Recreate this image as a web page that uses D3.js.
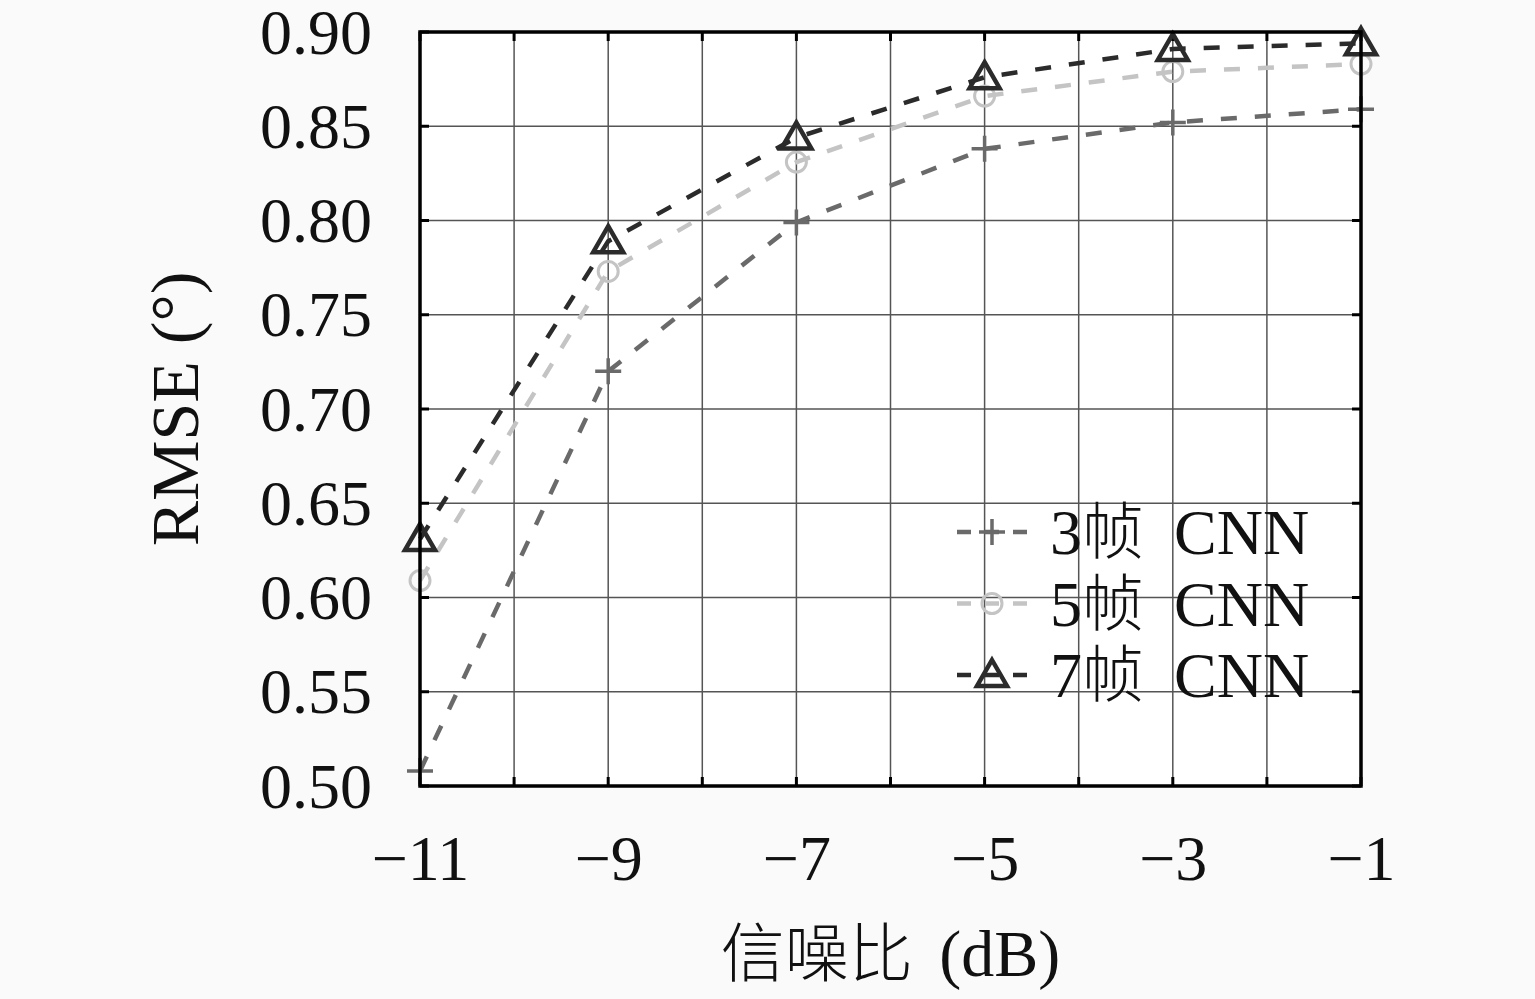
<!DOCTYPE html>
<html>
<head>
<meta charset="utf-8">
<script src="https://cdn.jsdelivr.net/npm/d3@7"></script>
<style>
  body { margin: 0; background: #fafafa; }
  svg { display: block; }
  text { font-family: "Liberation Serif", "DejaVu Serif", serif; fill: #111; }
  .cjk { font-family: "Noto Sans CJK SC", sans-serif; font-weight: 300; }
</style>
</head>
<body>
<div id="chart"></div>
<script>
// x values (dB) and labelled ticks
var snr = [-11, -9, -7, -5, -3, -1];
var xTicks = [-11, -9, -7, -5, -3, -1];
var yTicks = [0.50, 0.55, 0.60, 0.65, 0.70, 0.75, 0.80, 0.85, 0.90];

// RMSE for each model
var cnn3 = [0.508, 0.720, 0.799, 0.838, 0.852, 0.859];
var cnn5 = [0.609, 0.773, 0.831, 0.866, 0.879, 0.883];
var cnn7 = [0.631, 0.789, 0.844, 0.876, 0.891, 0.894];

var seriesNames = ["3帧", "5帧", "7帧"];

var width = 1535,
    height = 999,
    margin = {top: 32, right: 174, bottom: 213, left: 420};

var svg = d3.select("#chart").append("svg")
  .attr("width", width)
  .attr("height", height);

var w = width - margin.left - margin.right,
    h = height - margin.top - margin.bottom;

var g = svg.append("g")
  .attr("transform", `translate(${margin.left},${margin.top})`);

var x = d3.scaleLinear().domain([-11, -1]).range([0, w]);
var y = d3.scaleLinear().domain([0.5, 0.9]).range([h, 0]);

g.append("rect").attr("width", w).attr("height", h).attr("fill", "#fff");

// grid, every 1 dB and every 0.05
var gridX = d3.range(-11, -0.5, 1);
g.append("g").selectAll("line").data(gridX).enter().append("line")
  .attr("x1", d => x(d)).attr("x2", d => x(d))
  .attr("y1", 0).attr("y2", h)
  .attr("stroke", "#555").attr("stroke-width", 1.5);
g.append("g").selectAll("line").data(yTicks).enter().append("line")
  .attr("y1", d => y(d)).attr("y2", d => y(d))
  .attr("x1", 0).attr("x2", w)
  .attr("stroke", "#555").attr("stroke-width", 1.5);

// inward ticks on all four sides
var tk = 9;
var ticks = g.append("g").attr("stroke", "#000").attr("stroke-width", 3);
gridX.forEach(d => {
  ticks.append("line").attr("x1", x(d)).attr("x2", x(d)).attr("y1", h).attr("y2", h - tk);
  ticks.append("line").attr("x1", x(d)).attr("x2", x(d)).attr("y1", 0).attr("y2", tk);
});
yTicks.forEach(d => {
  ticks.append("line").attr("y1", y(d)).attr("y2", y(d)).attr("x1", 0).attr("x2", tk);
  ticks.append("line").attr("y1", y(d)).attr("y2", y(d)).attr("x1", w).attr("x2", w - tk);
});

// tick labels
var xAxis = d3.axisBottom(x).tickValues(xTicks).tickSize(0).tickPadding(0)
  .tickFormat(d => "\u2212" + Math.abs(d));
var yAxis = d3.axisLeft(y).tickValues(yTicks).tickSize(0).tickPadding(0)
  .tickFormat(d3.format(".2f"));

var gx = g.append("g").attr("transform", `translate(0,${h})`).call(xAxis);
gx.select(".domain").remove();
gx.selectAll("text").attr("font-size", 64).attr("dy", null).attr("y", 94)
  .attr("font-family", "Liberation Serif").attr("fill", "#111");

var gy = g.append("g").call(yAxis);
gy.select(".domain").remove();
gy.selectAll("text").attr("font-size", 64).attr("dy", "0.33em").attr("x", -48)
  .attr("font-family", "Liberation Serif").attr("fill", "#111");

// lines and markers
var series = [
  {name: seriesNames[0], values: cnn3, color: "#6a6a6a", marker: "plus"},
  {name: seriesNames[1], values: cnn5, color: "#c4c4c4", marker: "circle"},
  {name: seriesNames[2], values: cnn7, color: "#2b2b2b", marker: "triangle"}
];

var line = d3.line().x(d => x(d[0])).y(d => y(d[1]));

function drawMarker(sel, type, color) {
  if (type === "plus") {
    sel.append("path").attr("d", "M-13,0H13M0,-13V13")
      .attr("stroke", color).attr("stroke-width", 3.5).attr("fill", "none");
  } else if (type === "circle") {
    sel.append("circle").attr("r", 10)
      .attr("stroke", color).attr("stroke-width", 3).attr("fill", "none");
  } else {
    sel.append("path").attr("d", "M0,-15L15,11H-15Z")
      .attr("stroke", color).attr("stroke-width", 4.5).attr("fill", "none")
      .attr("stroke-linejoin", "miter");
  }
}

series.forEach(s => {
  var pts = snr.map((d, i) => [d, s.values[i]]);
  g.append("path").datum(pts)
    .attr("d", line)
    .attr("fill", "none")
    .attr("stroke", s.color)
    .attr("stroke-width", 4.5)
    .attr("stroke-dasharray", "16,18");
  g.append("g").selectAll("g").data(pts).enter().append("g")
    .attr("transform", d => `translate(${x(d[0])},${y(d[1])})`)
    .each(function () { drawMarker(d3.select(this), s.marker, s.color); });
});

// frame
g.append("rect").attr("width", w).attr("height", h)
  .attr("fill", "none").attr("stroke", "#000").attr("stroke-width", 3.5);

// legend
var legend = g.append("g").attr("transform", `translate(${957 - margin.left},${532 - margin.top})`);
series.forEach((s, i) => {
  var row = legend.append("g").attr("transform", `translate(0,${i * 71.5})`);
  row.append("line").attr("x1", 0).attr("x2", 70).attr("y1", 0).attr("y2", 0)
    .attr("stroke", s.color).attr("stroke-width", 4.5).attr("stroke-dasharray", "14,14");
  var m = row.append("g").attr("transform", "translate(35,0)");
  drawMarker(m, s.marker, s.color);
  var t = row.append("text").attr("x", 93).attr("y", 0).attr("dy", "0.35em")
    .attr("font-size", 64);
  t.append("tspan").text(s.name.charAt(0));
  t.append("tspan").attr("class", "cjk").attr("font-size", 62).text(s.name.slice(1));
  t.append("tspan").attr("dx", 14).text(" CNN");
});

// axis titles
var xt = g.append("text").attr("x", w / 2).attr("y", h + 190)
  .attr("text-anchor", "middle").attr("font-size", 66);
xt.append("tspan").attr("class", "cjk").attr("font-size", 64).text("信噪比");
xt.append("tspan").attr("dx", 10).text(" (dB)");

g.append("text")
  .attr("transform", `translate(-222,${h / 2}) rotate(-90)`)
  .attr("text-anchor", "middle").attr("font-size", 68)
  .text("RMSE (°)");
</script>
</body>
</html>
